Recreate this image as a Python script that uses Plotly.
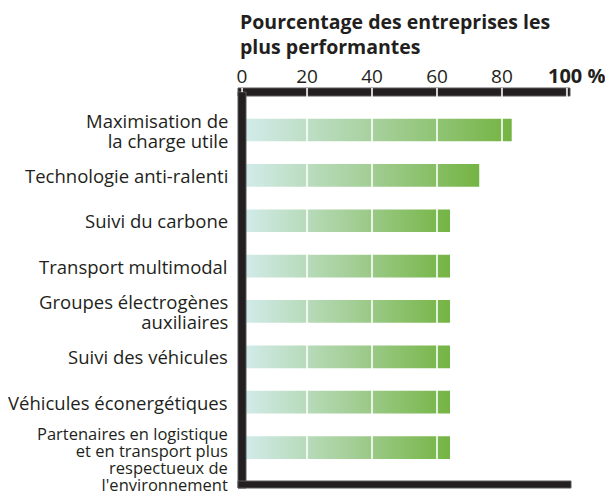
import plotly.graph_objects as go

# Données
categories = [
    "Maximisation de<br>la charge utile",
    "Technologie anti-ralenti",
    "Suivi du carbone",
    "Transport multimodal",
    "Groupes électrogènes<br>auxiliaires",
    "Suivi des véhicules",
    "Véhicules éconergétiques",
    "Partenaires en logistique<br>et en transport plus<br>respectueux de<br>l'environnement",
]
valeurs = [83, 73, 64, 64, 64, 64, 64, 64]
graduations = [0, 20, 40, 60, 80]
etiquettes = ["0", "20", "40", "60", "80"]

FONT = "Open Sans"
NOIR = "#231f20"
degrade = [[0, "#d3ecec"], [0.5, "#a6d09b"], [1, "#74b443"]]

# la page a une marge de 8 px : on décale tout de 8 px
L, T, W, H = 230, 80, 333, 400

fig = go.Figure()

# une barre = un polygone avec un dégradé horizontal propre
for i, v in enumerate(valeurs):
    fig.add_trace(go.Scatter(
        x=[0, v, v, 0, 0],
        y=[i - 0.25, i - 0.25, i + 0.25, i + 0.25, i - 0.25],
        mode="lines",
        line=dict(width=0, color="rgba(0,0,0,0)"),
        fill="toself",
        fillgradient=dict(type="horizontal", colorscale=degrade, start=0, stop=v),
        hoverinfo="skip",
        showlegend=False,
    ))

shapes = []
# barre du haut, puis lignes blanches (coupures + séparations sur les barres)
shapes.append(dict(type="rect", xref="paper", yref="paper", x0=0, x1=332 / W,
                   y0=1 - 8 / H, y1=1, fillcolor=NOIR,
                   line=dict(color="#58595b", width=1), layer="above"))
for g in graduations[1:] + [100]:
    shapes.append(dict(type="line", xref="x", yref="paper", x0=g, x1=g, y0=0.02, y1=1,
                       line=dict(color="rgba(255,255,255,0.8)", width=2), layer="above"))
# axe gauche et axe du bas
shapes.append(dict(type="rect", xref="paper", yref="paper", x0=0, x1=8 / W, y0=0, y1=1 - 4 / H,
                   fillcolor=NOIR, line=dict(color="#58595b", width=1), layer="above"))
shapes.append(dict(type="rect", xref="paper", yref="paper", x0=0, x1=1, y0=0, y1=7 / H,
                   fillcolor=NOIR, line=dict(color="#58595b", width=1), layer="above"))
shapes.append(dict(type="line", xref="x", yref="paper", x0=0, x1=0, y0=1 - 4 / H, y1=1,
                   line=dict(color="white", width=1.5), layer="above"))

annotations = [
    dict(text="<b>Pourcentage des entreprises les<br>plus performantes</b>",
         xref="paper", yref="paper", x=0, y=1 + (T + 2) / H, xanchor="left", yanchor="top",
         align="left", showarrow=False,
         font=dict(family=FONT, size=19.5, color=NOIR)),
    dict(text="<b>100 %</b>", xref="x", yref="paper", x=100, y=1 + (T - 67) / H,
         xanchor="left", yanchor="middle", xshift=-21, showarrow=False,
         font=dict(family=FONT, size=20, color=NOIR)),
]

# étiquettes des catégories : interligne serré via une taille de base réduite
for i, cat in enumerate(categories):
    dernier = i == len(categories) - 1
    pas = 17 if dernier else 20
    taille = 16.5 if dernier else 18.5
    lignes = cat.split("<br>")
    texte = "<br>".join(f"<span style='font-size:{taille}px'>{l}</span>" for l in lignes)
    annotations.append(dict(
        text=texte, xref="paper", yref="y", x=0, y=i, xanchor="right", yanchor="middle",
        align="right", xshift=-8, yshift=-11 if dernier else 0, showarrow=False,
        font=dict(family=FONT, size=pas / 1.3, color=NOIR)))

fig.update_layout(
    width=605, height=488,
    margin=dict(l=L, r=605 - L - W, t=T, b=488 - T - H),
    plot_bgcolor="white", paper_bgcolor="white",
    font=dict(family=FONT, color=NOIR),
    xaxis=dict(range=[-1.25, 101.25], side="top", tickvals=graduations, ticktext=etiquettes,
               showgrid=False, zeroline=False, showline=False, ticks="", automargin=False,
               tickfont=dict(size=19, color=NOIR), ticklabelstandoff=0, fixedrange=True),
    yaxis=dict(range=[7.892, -0.926], showticklabels=False, showgrid=False, zeroline=False,
               showline=False, ticks="", automargin=False, fixedrange=True),
    shapes=shapes,
    annotations=annotations,
)

fig.write_html("out.html")
